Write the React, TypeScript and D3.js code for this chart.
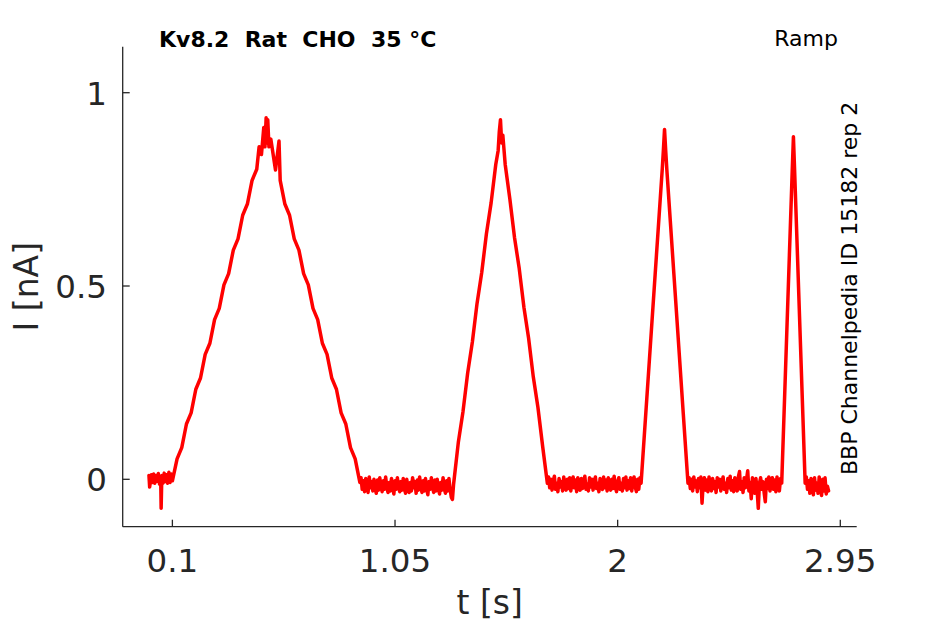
import * as d3 from "d3";

type Pt = [number, number];

// axis settings
const xDomain = [-0.112, 3.02];
const yDomain = [-0.1226, 1.119];
const xTicks = [0.1, 1.05, 2, 2.95];
const xTickLabels = ["0.1", "1.05", "2", "2.95"];
const yTicks = [0, 0.5, 1];
const yTickLabels = ["0", "0.5", "1"];

// trace (t in s, I in nA)
const preRamp: Pt[] = [
  [0, 0.01], [0.003, -0.02], [0.01, 0.012], [0.015, -0.008], [0.02, 0.014],
  [0.025, -0.01], [0.03, 0.01], [0.035, -0.005], [0.04, 0.015], [0.045, -0.012],
  [0.05, 0.008], [0.052, -0.075], [0.055, 0.01], [0.06, -0.01], [0.065, 0.016],
  [0.07, -0.006], [0.075, 0.012], [0.08, -0.01], [0.085, 0.018], [0.09, -0.008],
  [0.095, 0.014], [0.1, -0.004],
];

const ramp1: Pt[] = [
  [0.12, 0.053], [0.14, 0.082], [0.16, 0.143], [0.18, 0.172], [0.2, 0.233],
  [0.22, 0.262], [0.24, 0.323], [0.26, 0.352], [0.28, 0.413], [0.3, 0.442],
  [0.32, 0.503], [0.34, 0.532], [0.36, 0.593], [0.38, 0.622], [0.4, 0.683],
  [0.42, 0.712], [0.44, 0.773], [0.46, 0.802], [0.47, 0.86], [0.48, 0.84],
  [0.49, 0.91], [0.495, 0.86], [0.5, 0.935], [0.503, 0.87], [0.507, 0.93],
  [0.512, 0.86], [0.52, 0.88], [0.53, 0.84], [0.54, 0.8], [0.555, 0.875],
  [0.56, 0.773], [0.58, 0.712], [0.6, 0.683], [0.62, 0.622], [0.64, 0.593],
  [0.66, 0.532], [0.68, 0.503], [0.7, 0.442], [0.72, 0.413], [0.74, 0.352],
  [0.76, 0.323], [0.78, 0.262], [0.8, 0.233], [0.82, 0.172], [0.84, 0.143],
  [0.86, 0.082], [0.88, 0.053],
];

const base1 = [
  -0.008, 0.004, -0.026, -0.004, -0.032, 0.002, -0.018, -0.034, 0.006, -0.022,
  -0.006, -0.03, 0.0, -0.024, -0.036, -0.002, -0.028, 0.004, -0.016, -0.032,
  -0.004, -0.026, 0.006, -0.02, -0.034, -0.008, -0.03, 0.002, -0.022, -0.038,
  -0.004, -0.026, 0.004, -0.018, -0.032, -0.006, -0.028, 0.002, -0.024, -0.036,
  0.0, -0.02, -0.034, -0.008, -0.03, 0.004, -0.022, -0.006, -0.036, -0.002,
  -0.028, 0.006, -0.018, -0.034, -0.004, -0.03, 0.002, -0.024, -0.04, -0.006,
  -0.026, 0.004, -0.02, -0.034, -0.002, -0.03, 0.0, -0.024, -0.038, -0.008,
  -0.028, 0.004, -0.022, -0.036, -0.004, -0.03, 0.002, -0.026, -0.046, -0.052, -0.012,
];

const ramp2: Pt[] = [
  [1.32, 0.095], [1.34, 0.175], [1.36, 0.275], [1.38, 0.355], [1.4, 0.455],
  [1.42, 0.535], [1.44, 0.635], [1.46, 0.715], [1.48, 0.815], [1.49, 0.85],
  [1.495, 0.9], [1.5, 0.93], [1.505, 0.87], [1.51, 0.89], [1.52, 0.815],
  [1.54, 0.725], [1.56, 0.625], [1.58, 0.545], [1.6, 0.445], [1.62, 0.365],
  [1.64, 0.265], [1.66, 0.185], [1.68, 0.085],
];

const base2 = [
  -0.01, 0.006, -0.022, 0.0, -0.028, -0.004, 0.008, -0.026, -0.01, -0.032,
  0.002, -0.02, -0.006, -0.03, 0.006, -0.016, -0.028, 0.0, -0.024, 0.004,
  -0.03, -0.008, 0.006, -0.022, -0.002, -0.032, 0.004, -0.018, -0.028, 0.002,
  -0.024, -0.006, 0.008, -0.026, -0.012, -0.03, 0.004, -0.02, 0.0, -0.028,
  -0.004, 0.006, -0.024, -0.01, -0.032, 0.002, -0.018, -0.026, 0.006, -0.022,
  -0.002, -0.03, 0.004, -0.016, -0.028, 0.0, -0.024, 0.008, -0.02, -0.032,
  -0.006, 0.004, -0.026, -0.01, -0.03, 0.002, -0.022, 0.006, -0.028, -0.004,
  -0.024, 0.004, -0.03, -0.008, 0.006, -0.02, -0.032, 0.0, -0.026, 0.004, -0.01,
];

const ramp3: Pt[] = [
  [2.11, 0.08], [2.12, 0.17], [2.13, 0.26], [2.14, 0.35], [2.15, 0.44],
  [2.16, 0.53], [2.17, 0.62], [2.18, 0.71], [2.19, 0.8], [2.195, 0.85],
  [2.2, 0.905], [2.205, 0.85], [2.21, 0.8], [2.22, 0.71], [2.23, 0.62],
  [2.24, 0.53], [2.25, 0.44], [2.26, 0.35], [2.27, 0.26], [2.28, 0.17],
  [2.29, 0.08],
];

const base3 = [
  -0.01, 0.004, -0.024, 0.0, -0.03, 0.006, -0.02, -0.004, -0.032, 0.002,
  -0.022, 0.006, -0.062, -0.01, 0.004, -0.028, -0.002, -0.032, 0.006, -0.018,
  -0.03, 0.002, -0.024, -0.006, -0.034, 0.004, -0.02, 0.0, -0.03, -0.008,
  0.006, -0.026, -0.01, -0.034, 0.002, -0.022, 0.008, -0.028, -0.004, -0.032,
  0.004, -0.02, -0.03, 0.006, 0.02, -0.026, -0.006, -0.034, 0.004, -0.022,
  0.0, 0.022, -0.03, -0.008, -0.05, 0.004, -0.024, -0.036, 0.002, -0.028,
  -0.075, -0.01, 0.004, -0.026, -0.006, -0.034, -0.058, 0.0, -0.024, 0.006,
  -0.03, -0.008, 0.004, -0.026, -0.002, -0.032, 0.006, -0.02, -0.03, 0.002,
  -0.01,
];

const ramp4: Pt[] = [
  [2.71, 0.17], [2.725, 0.44], [2.74, 0.71], [2.745, 0.8], [2.75, 0.886],
  [2.755, 0.8], [2.76, 0.71], [2.775, 0.44], [2.79, 0.17],
];

const base4 = [
  -0.01, 0.006, -0.026, -0.004, -0.036, 0.002, -0.02, -0.04, 0.004, -0.028,
  -0.01, -0.036, 0.006, -0.024, -0.042, 0.0, -0.03, 0.004, -0.038, -0.018, -0.03,
];

// baseline samples are evenly spaced between two times
function spread(values: number[], t0: number, t1: number): Pt[] {
  const step = (t1 - t0) / (values.length - 1);
  return values.map((v, i) => [t0 + i * step, v] as Pt);
}

const trace: Pt[] = [
  ...preRamp,
  ...ramp1,
  ...spread(base1, 0.9, 1.3),
  ...ramp2,
  ...spread(base2, 1.7, 2.1),
  ...ramp3,
  ...spread(base3, 2.3, 2.7),
  ...ramp4,
  ...spread(base4, 2.8, 2.9),
];

const W = 945;
const H = 624;
const left = 122.7;
const right = 856.7;
const top = 46.7;
const bottom = 526.7;
const axisColor = "#262626";
const font = "'DejaVu Sans', sans-serif";

export default function App() {
  const x = d3.scaleLinear().domain(xDomain).range([left, right]);
  const y = d3.scaleLinear().domain(yDomain).range([bottom, top]);
  const line = d3.line<Pt>().x(d => x(d[0])).y(d => y(d[1]));

  return (
    <svg width={W} height={H} style={{ position: "absolute", left: 0, top: 0, background: "#fff" }}
      fontFamily={font}>
      <rect width={W} height={H} fill="#fff" />
      <path d={line(trace) ?? ""} fill="none" stroke="#ff0000" strokeWidth={3.5}
        strokeLinejoin="round" strokeLinecap="round" />

      {/* axes */}
      <line x1={left} x2={left} y1={top} y2={bottom} stroke={axisColor} strokeWidth={1.3} />
      <line x1={left} x2={right} y1={bottom} y2={bottom} stroke={axisColor} strokeWidth={1.3} />
      {xTicks.map((t, i) => (
        <g key={"x" + i}>
          <line x1={x(t)} x2={x(t)} y1={bottom} y2={bottom - 7} stroke={axisColor} strokeWidth={1.3} />
          <text x={x(t)} y={572} textAnchor="middle" fontSize={32.5} fill={axisColor}>{xTickLabels[i]}</text>
        </g>
      ))}
      {yTicks.map((v, i) => (
        <g key={"y" + i}>
          <line x1={left} x2={left + 7} y1={y(v)} y2={y(v)} stroke={axisColor} strokeWidth={1.3} />
          <text x={107} y={y(v)} dy="0.37em" textAnchor="end" fontSize={32.5} fill={axisColor}>{yTickLabels[i]}</text>
        </g>
      ))}

      <text x={(left + right) / 2} y={614} textAnchor="middle" fontSize={33} fill={axisColor}>t [s]</text>
      <text transform={`translate(38,${(top + bottom) / 2}) rotate(-90)`} textAnchor="middle"
        fontSize={33} fill={axisColor}>I [nA]</text>

      <text x={159} y={47.3} fontSize={22} fontWeight="bold" fill="#000" style={{ whiteSpace: "pre" }}>
        {"Kv8.2  Rat  CHO  35 °C"}
      </text>
      <text x={838} y={46} textAnchor="end" fontSize={22} fill="#000">Ramp</text>
      <text transform="translate(857,475) rotate(-90)" fontSize={22} fill="#000">
        BBP Channelpedia ID 15182 rep 2
      </text>
    </svg>
  );
}
